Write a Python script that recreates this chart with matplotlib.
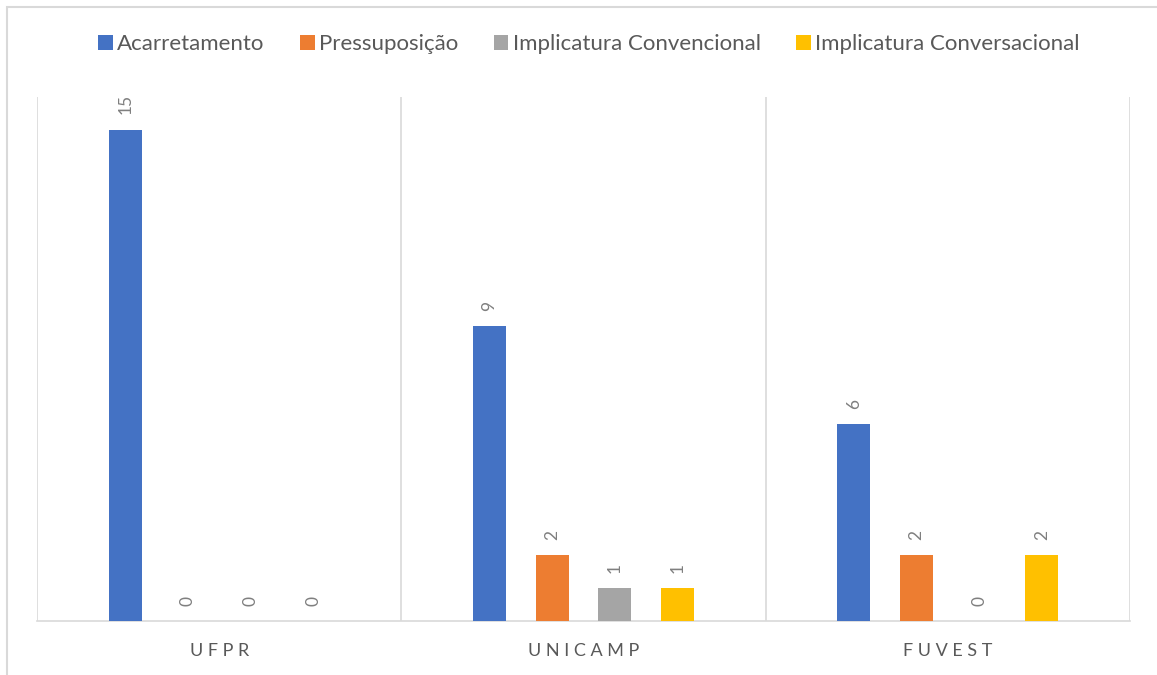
import matplotlib.pyplot as plt
from matplotlib.patches import Rectangle
import numpy as np

plt.rcParams['font.family'] = ['Lato', 'DejaVu Sans']

# data
groups = ['UFPR', 'UNICAMP', 'FUVEST']
series = ['Acarretamento', 'Pressuposição', 'Implicatura Convencional', 'Implicatura Conversacional']
acarretamento = [15, 9, 6]
pressuposicao = [0, 2, 2]
impl_convencional = [0, 1, 0]
impl_conversacional = [0, 1, 2]
values = [acarretamento, pressuposicao, impl_convencional, impl_conversacional]
colors = ['#4472C4', '#ED7D31', '#A5A5A5', '#FFC000']

fig = plt.figure(figsize=(11.57, 6.75), dpi=100)
ax = fig.add_axes([0.032, 0.08, 0.9447, 0.7763])

# outer chart border (Excel style)
fig.patches.append(Rectangle((7 / 1157, -0.01), 1.02, 1 - 7 / 675 + 0.01, transform=fig.transFigure,
                             fill=False, edgecolor='#d9d9d9', linewidth=1.5))

x = np.arange(len(groups))
step = 0.172
width = 0.0907
for i, (name, vals, c) in enumerate(zip(series, values, colors)):
    pos = x + (i - 1.5) * step
    bars = ax.bar(pos, vals, width=width, color=c, label=name, zorder=3)
    for b, v in zip(bars, vals):
        ax.annotate(str(v), (b.get_x() + b.get_width() / 2, v), xytext=(0, 11),
                    textcoords='offset points', ha='center', va='bottom',
                    rotation=90, fontsize=12.5, color='#7f7f7f')

ax.set_xlim(-0.5, 2.5)
ax.set_ylim(0, 16)
for xv in [-0.5, 0.5, 1.5, 2.5]:
    ax.axvline(xv, color='#d9d9d9', linewidth=1.2, zorder=1)

for s in ['top', 'left', 'right']:
    ax.spines[s].set_visible(False)
ax.spines['bottom'].set_color('#d9d9d9')
ax.spines['bottom'].set_linewidth(1.2)
ax.set_yticks([])
ax.set_xticks(x)
ax.set_xticklabels([' '.join(g) for g in groups], fontsize=13, color='#595959')
ax.tick_params(axis='x', length=0, pad=16)

fig.legend(loc='center', bbox_to_anchor=(0.509, 1 - 44 / 675), ncol=4, frameon=False,
           fontsize=16, handlelength=0.65, handleheight=0.65, handletextpad=0.2,
           columnspacing=1.6, labelcolor='#595959')

fig.savefig('out.png', dpi=100)
